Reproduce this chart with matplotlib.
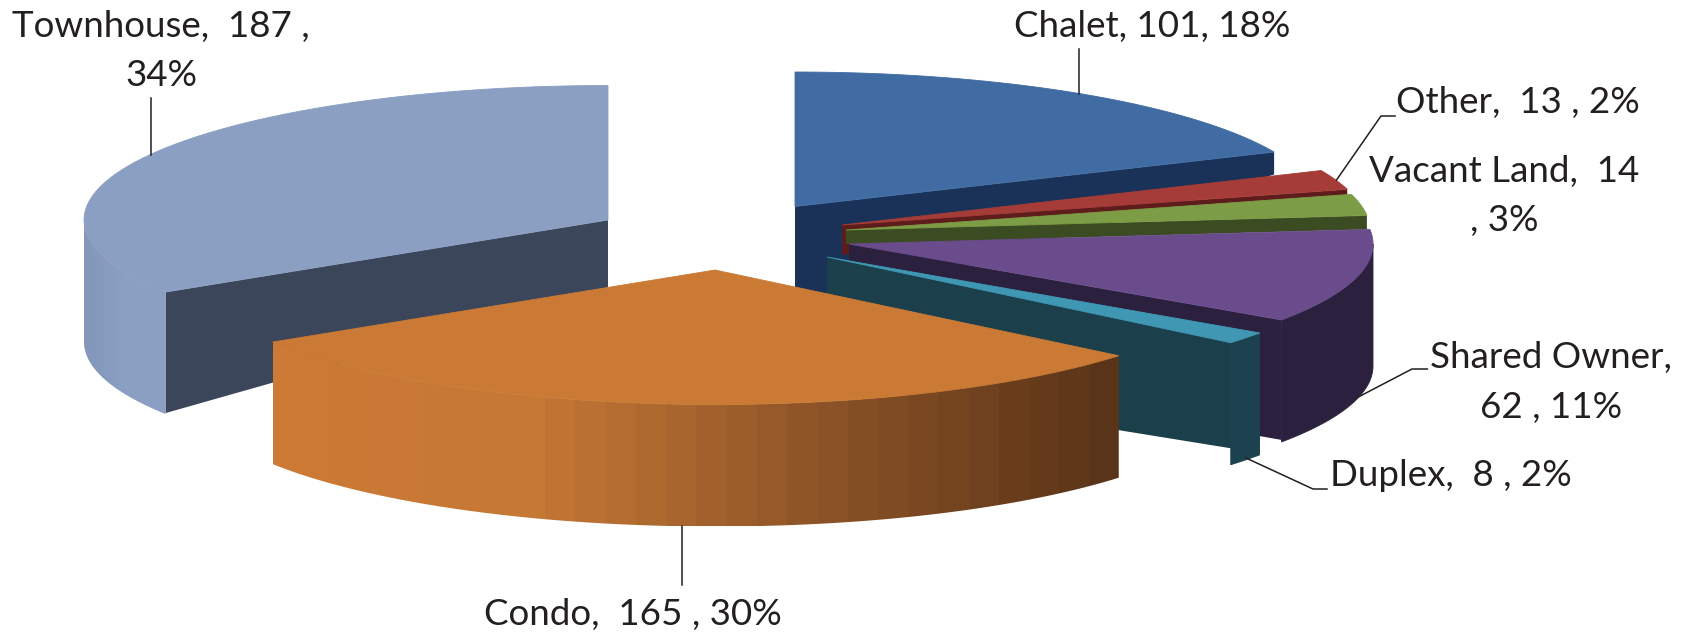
import numpy as np
import matplotlib
matplotlib.use('Agg')
import matplotlib.pyplot as plt
from matplotlib.patches import Polygon
from matplotlib.colors import LinearSegmentedColormap

# the data, clockwise from 12 o'clock
categories = ['Chalet', 'Other', 'Vacant Land', 'Shared Owner', 'Duplex', 'Condo', 'Townhouse']
values = [101, 13, 14, 62, 8, 165, 187]
labels = ['Chalet, 101, 18%', 'Other,  13 , 2%', 'Vacant Land,  14\n, 3%',
          'Shared Owner,\n62 , 11%', 'Duplex,  8 , 2%', 'Condo,  165 , 30%',
          'Townhouse,  187 ,\n34%']

# colours
top_colors = ['#416ca3', '#a63c38', '#7c9d46', '#6a4c8c', '#3f97b3', '#ca7a35', '#8a9fc2']
cut_colors = ['#1a3257', '#5e1c1c', '#3c4c22', '#2b213f', '#1c3f4c', '#5a3418', '#3c465a']
rim_colors = ['#1a3257', '#5e1c1c', '#3c4c22', '#2b213f', '#1c4250', None, None]

# layout in pixels: where each wedge tip sits, how thick the cut faces look
apex_x = [795, 842, 846, 849, 827, 715, 608]
apex_y = [206.5, 225, 230, 244, 257, 270, 220]
cut_depth_tip = [110, 30, 14, 120, 126, 122, 67.5]
cut_depth_rim = [22.5, 6, 14, 120, 120, 122, 121]
rx, ry = 524, 134.5
depth = 122

# text position and leader lines, same order as categories
label_x = [1152, 1518, 1504, 1551, 1450.5, 633, 161]
label_y = [26, 103, 196, 382.5, 476, 614, 51]
leaders = [
    ([1078.5, 1078.5], [49, 94]),
    ([1395, 1381, 1336.5], [116, 116, 180]),
    None,
    ([1427.4, 1412, 1356.4], [369, 369, 398]),
    ([1327, 1313, 1246], [489, 489, 458]),
    ([682, 682], [526, 585]),
    ([150.5, 150.5], [98, 155]),
]

plt.rcParams['font.family'] = ['Lato', 'DejaVu Sans']

fig = plt.figure(figsize=(16.86, 6.33), dpi=100)
ax = fig.add_axes([0, 0, 1, 1])
ax.axis('off')


def rim_point(cx, cy, theta):
    t = np.radians(theta)
    return cx + rx * np.sin(t), cy - ry * np.cos(t)


def shaded(patch, cmap, zorder):
    # paint a horizontal gradient through the patch outline
    x0, y0 = patch.get_xy().min(axis=0)
    x1, y1 = patch.get_xy().max(axis=0)
    im = ax.imshow(np.linspace(0, 1, 28)[None, :], cmap=cmap, extent=(x0, x1, y1, y0),
                   aspect='auto', zorder=zorder, interpolation='nearest')
    patch.set(facecolor='none', edgecolor='none')
    ax.add_patch(patch)
    im.set_clip_path(patch)


condo_cmap = LinearSegmentedColormap.from_list(
    'condo', [(0, '#cc7a36'), (0.3, '#c67835'), (0.67, '#8a5226'), (1, '#5a3418')])
town_cmap = LinearSegmentedColormap.from_list('town', [(0, '#8497bb'), (0.5, '#8a9fc2'), (1, '#8a9fc2')])
rim_cmaps = {'Condo': condo_cmap, 'Townhouse': town_cmap}

# back to front: right side first, then Townhouse, then Condo on top
angles = np.concatenate([[0], np.cumsum(values) / np.sum(values) * 360])
for z, i in enumerate([0, 1, 2, 3, 4, 6, 5]):
    cx, cy = apex_x[i], apex_y[i]
    a0, a1 = angles[i], angles[i + 1]
    thetas = np.linspace(a0, a1, 80)
    xs, ys = rim_point(cx, cy, thetas)

    # cut faces. only the one that looks to the viewer shows
    if categories[i] == 'Townhouse' or categories[i] == 'Duplex':
        edge = a0 if categories[i] == 'Duplex' else a0
    elif categories[i] == 'Condo':
        edge = None
    else:
        edge = a1
    if edge is not None:
        ex, ey = rim_point(cx, cy, edge)
        face = [(cx, cy), (ex, ey), (ex, ey + cut_depth_rim[i]), (cx, cy + cut_depth_tip[i])]
        ax.add_patch(Polygon(face, facecolor=cut_colors[i], edgecolor='none', zorder=z * 3 + 1))

    # outer wall, visible on the near half of the ellipse only
    lo, hi = max(a0, 90), min(a1, 270)
    if lo < hi:
        wt = np.linspace(lo, hi, 80)
        wx, wy = rim_point(cx, cy, wt)
        wall = np.vstack([np.column_stack([wx, wy]),
                          np.column_stack([wx[::-1], wy[::-1] + depth])])
        patch = Polygon(wall, closed=True, zorder=z * 3 + 2)
        if categories[i] in rim_cmaps:
            shaded(patch, rim_cmaps[categories[i]], z * 3 + 2)
        else:
            patch.set(facecolor=rim_colors[i], edgecolor=rim_colors[i], linewidth=0.6)
            ax.add_patch(patch)

    top = np.vstack([[cx, cy], np.column_stack([xs, ys])])
    ax.add_patch(Polygon(top, facecolor=top_colors[i], edgecolor=top_colors[i], linewidth=0.6,
                         zorder=z * 3 + 3))

for i in range(len(categories)):
    ax.text(label_x[i], label_y[i], labels[i], fontsize=26.5, color='#231f20', ha='center',
            va='center', linespacing=1.62, zorder=40)
    if leaders[i] is not None:
        ax.plot(leaders[i][0], leaders[i][1], color='#231f20', lw=1.1, zorder=39)

ax.set_xlim(0, 1686)
ax.set_ylim(633, 0)
fig.savefig('out.png', dpi=100)
